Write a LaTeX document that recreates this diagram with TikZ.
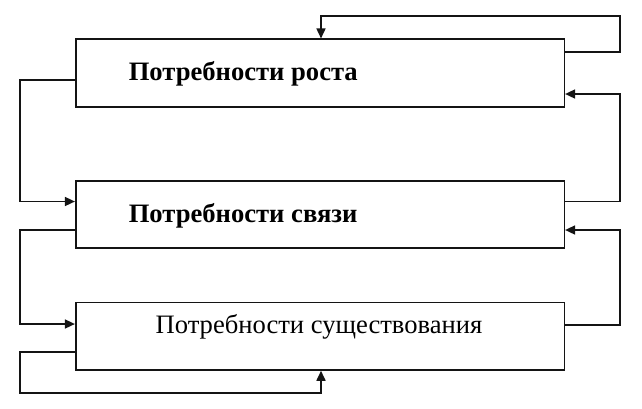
\documentclass[tikz,border=0pt]{standalone}
\usepackage{fontspec}
\setmainfont{Liberation Serif}
\usetikzlibrary{arrows.meta}
\begin{document}
\begin{tikzpicture}[x=1pt,y=-1pt, line width=1.6pt, color=black!92,
  box/.style={draw, minimum width=488.6pt, minimum height=67.5pt, inner sep=0pt},
  lbl/.style={font=\fontsize{26.6}{32}\selectfont, inner sep=0pt, text=black},
  lblb/.style={font=\fontsize{26.6}{32}\selectfont\bfseries, inner sep=0pt, text=black},
  arr/.style={-{Triangle[length=10pt,width=9pt]}}]
\useasboundingbox (0,0) rectangle (642,408);
\fill[white] (0,0) rectangle (642,408);
\node[box] (b1) at (320,73) {};
\node[box] (b2) at (320,214.5) {};
\node[box] (b3) at (320,336.2) {};
\node[lblb, anchor=base west] (t1) at (128,80) {Потребности роста};
\node[lblb, anchor=base west] (t2) at (128,222) {Потребности связи};
\node[lbl, anchor=base] (t3) at (319,333) {Потребности существования};
% right side
\draw[arr] (b1.east |- 0,52) -- (620,52) -- (620,16) -- (321,16) -- (321,0 |- b1.north);
\draw[arr] (b2.east |- 0,201.5) -- (620,201.5) -- (620,94) -- (b1.east |- 0,94);
\draw[arr] (b3.east |- 0,325) -- (620,325) -- (620,230) -- (b2.east |- 0,230);
% left side
\draw[arr] (b1.west |- 0,80) -- (20,80) -- (20,201.5) -- (b2.west |- 0,201.5);
\draw[arr] (b2.west |- 0,230) -- (20,230) -- (20,324) -- (b3.west |- 0,324);
\draw[arr] (b3.west |- 0,352) -- (20,352) -- (20,393) -- (321,393) -- (321,0 |- b3.south);
\end{tikzpicture}
\end{document}
